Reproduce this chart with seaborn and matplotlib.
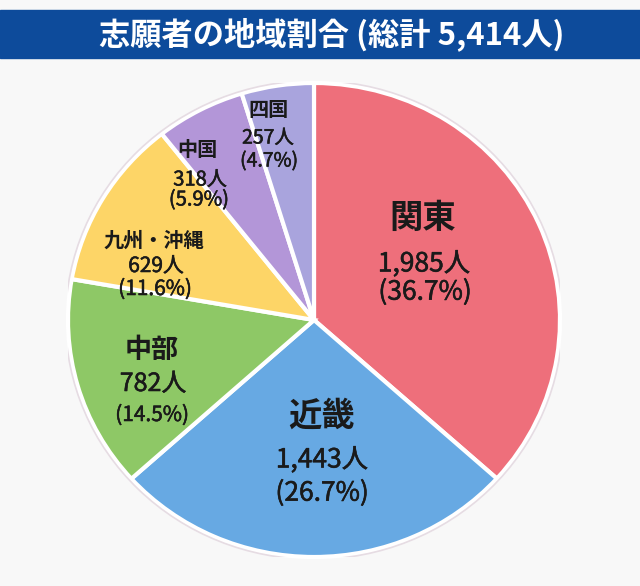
import matplotlib
matplotlib.use("Agg")
import matplotlib.pyplot as plt
import matplotlib.patheffects as pe
import seaborn as sns
from matplotlib.patches import Rectangle, Ellipse

# data
regions = ["関東", "近畿", "中部", "九州・沖縄", "中国", "四国"]
counts = [1985, 1443, 782, 629, 318, 257]
shares = [36.7, 26.7, 14.5, 11.6, 5.9, 4.7]
total = 5414
title = f"志願者の地域割合 (総計 {total:,}人)"

colors = ["#ee6f7b", "#67a9e3", "#8ec866", "#fdd567", "#b396d8", "#a9a4dd"]

# label layout (pixel coords from top-left): name, count, share centres
label_xy = [
    [(423, 218), (424, 264), (425, 292)],
    [(322, 416), (322, 460), (322, 493)],
    [(152, 350), (153, 384), (152, 415)],
    [(154, 240), (156, 266), (155, 289)],
    [(197, 150), (200, 180), (199, 200)],
    [(269, 110), (268, 138), (269, 161)],
]
label_sizes = [
    (24, 19, 19),
    (24, 19, 19),
    (19.5, 18, 15),
    (14.5, 15, 15),
    (14.5, 14.5, 14.5),
    (14.5, 14, 14),
]

W, H = 640, 586
CX, CY, RX, RY = 314, 320, 246, 237

sns.set_theme(style="white")
plt.rcParams["font.family"] = ["Noto Sans CJK JP", "DejaVu Sans"]

fig = plt.figure(figsize=(W / 100, H / 100), dpi=100)
fig.patch.set_facecolor("#f8f8f8")

# pie in its own axes, box sized to the (slightly wide) ellipse
ax_pie = fig.add_axes([(CX - RX) / W, (H - CY - RY) / H, 2 * RX / W, 2 * RY / H])
ax_pie.pie(counts, colors=sns.color_palette(colors), startangle=90, counterclock=False,
           radius=1, wedgeprops=dict(edgecolor="white", linewidth=3))
ax_pie.add_patch(Ellipse((0, 0), 2.02, 2.02, fill=False, edgecolor="#e6dce3", lw=1.2))
ax_pie.set_xlim(-1, 1)
ax_pie.set_ylim(-1, 1)
ax_pie.set_aspect("auto")
ax_pie.axis("off")

# overlay axes in pixel coordinates for the title and labels
ax = fig.add_axes([0, 0, 1, 1])
ax.set_xlim(0, W)
ax.set_ylim(0, H)
ax.axis("off")

ax.add_patch(Rectangle((0, H - 58), W, 48, color="#0d4b9b", zorder=5))
ax.text(332, H - 34, title, color="white", fontsize=22.5, fontweight="bold",
        ha="center", va="center", zorder=6)

thick = [pe.withStroke(linewidth=0.4, foreground="#1a1a1a")]
for i in range(len(regions)):
    lines = [regions[i], f"{counts[i]:,}人", f"({shares[i]}%)"]
    for j in range(3):
        x, y = label_xy[i][j]
        kw = dict(fontweight="bold") if j == 0 else dict(path_effects=thick)
        ax.text(x, H - y, lines[j], fontsize=label_sizes[i][j], color="#1a1a1a",
                ha="center", va="center", **kw)

fig.savefig("out.png", dpi=100, facecolor=fig.get_facecolor())
